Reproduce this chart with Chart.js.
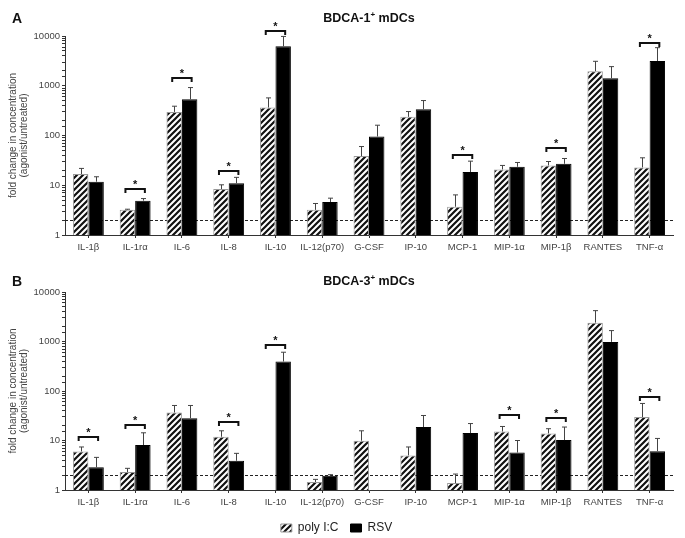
<!DOCTYPE html>
<html>
<head>
<meta charset="utf-8">
<script src="https://cdn.jsdelivr.net/npm/chart.js@4.4.0/dist/chart.umd.min.js"></script>
<style>
  html, body { margin: 0; padding: 0; background: #fff; overflow: hidden; }
  #wrap { position: relative; width: 685px; height: 538px; }
  .panel { position: absolute; left: 0; width: 685px; }
  #panelA { top: 0; height: 258px; }
  #panelB { top: 258px; height: 286px; }
</style>
</head>
<body>
<div id="wrap">
  <div class="panel" id="panelA"><canvas id="chartA"></canvas></div>
  <div class="panel" id="panelB"><canvas id="chartB"></canvas></div>
</div>
<script>
const cytokines = ['IL-1β', 'IL-1rα', 'IL-6', 'IL-8', 'IL-10', 'IL-12(p70)', 'G-CSF', 'IP-10', 'MCP-1', 'MIP-1α', 'MIP-1β', 'RANTES', 'TNF-α']
const yTicks    = [1, 10, 100, 1000, 10000]
const cutoff    = 2

// BDCA-1+ mDCs (panel A): mean and top of error bar
const bdca1PolyIC    = [16.8, 3.2, 298, 8.4, 365, 3.2, 38.5, 237, 3.7, 20.8, 25, 1955, 22.8]
const bdca1PolyICErr = [21.8, 3.3, 388, 10.2, 570, 4.3, 60, 303, 6.4, 25, 30, 3100, 35.6]
const bdca1Rsv       = [11.8, 4.9, 536, 11.0, 6200, 4.6, 95.5, 338, 18.4, 23.5, 27, 1414, 3150]
const bdca1RsvErr    = [14.8, 5.4, 919, 14.4, 9800, 5.5, 161, 504, 30.5, 28.7, 34.5, 2425, 5830]
const bdca1Sig       = [null, 8.4, 1400, 19.5, 12800, null, null, null, 41, null, 56, null, 7400]

// BDCA-3+ mDCs (panel B)
const bdca3PolyIC    = [6.0, 2.3, 36.8, 11.9, null, 1.45, 9.9, 5.0, 1.38, 15.2, 13.9, 2406, 29.7]
const bdca3PolyICErr = [7.4, 2.74, 51, 15.7, null, 1.64, 15.7, 7.4, 2.1, 19.2, 17.3, 4200, 56]
const bdca3Rsv       = [2.87, 8.1, 28.3, 3.9, 394, 1.95, null, 18.7, 14.1, 5.7, 10.2, 982, 6.1]
const bdca3RsvErr    = [4.56, 14.3, 51, 5.5, 607, 2.04, null, 32, 22, 10, 18.7, 1660, 11]
const bdca3Sig       = [11.9, 20.8, null, 23.9, 855, null, null, null, null, 32, 29, null, 76]

const FONT = "'Liberation Sans', Arial, sans-serif"

function makeHatch() {
  const c = document.createElement('canvas')
  c.width = 6; c.height = 6
  const g = c.getContext('2d')
  g.fillStyle = '#fff'; g.fillRect(0, 0, 6, 6)
  g.strokeStyle = '#111'; g.lineWidth = 2.2
  g.beginPath()
  g.moveTo(-1, 7); g.lineTo(7, -1)
  g.moveTo(-1, 1); g.lineTo(1, -1)
  g.moveTo(5, 7); g.lineTo(7, 5)
  g.stroke()
  return g.createPattern(c, 'repeat')
}
const hatch = makeHatch()

// dashed line at the 2-fold cutoff, behind the bars
const cutoffLine = {
  id: 'cutoffLine',
  beforeDatasetsDraw(chart) {
    const { ctx, chartArea, scales } = chart
    const y = Math.round(scales.y.getPixelForValue(cutoff)) + 0.5
    ctx.save()
    ctx.strokeStyle = '#222'; ctx.lineWidth = 1; ctx.setLineDash([3, 2])
    ctx.beginPath(); ctx.moveTo(chartArea.left, y); ctx.lineTo(chartArea.right, y); ctx.stroke()
    ctx.restore()
  }
}

// upward error bars + significance brackets
const annotations = {
  id: 'annotations',
  afterDatasetsDraw(chart, args, opts) {
    const { ctx, scales } = chart
    const y = scales.y
    ctx.save()
    chart.data.datasets.forEach((ds, di) => {
      const meta = chart.getDatasetMeta(di)
      meta.data.forEach((bar, i) => {
        const top = ds.errTop[i]
        if (ds.data[i] == null || top == null) return
        const x = Math.round(bar.x) + 0.5
        const yt = y.getPixelForValue(top)
        ctx.strokeStyle = '#444'; ctx.lineWidth = 1
        ctx.beginPath()
        ctx.moveTo(x, bar.y); ctx.lineTo(x, yt)
        ctx.moveTo(x - 2.5, yt); ctx.lineTo(x + 2.5, yt)
        ctx.stroke()
      })
    })
    const m0 = chart.getDatasetMeta(0), m1 = chart.getDatasetMeta(1)
    opts.sig.forEach((v, i) => {
      if (v == null) return
      const x1 = m0.data[i].x - 2, x2 = m1.data[i].x + 2
      const yy = Math.round(y.getPixelForValue(v))
      ctx.strokeStyle = '#111'; ctx.lineWidth = 2
      ctx.beginPath()
      ctx.moveTo(x1, yy + 4); ctx.lineTo(x1, yy); ctx.lineTo(x2, yy); ctx.lineTo(x2, yy + 4)
      ctx.stroke()
      ctx.fillStyle = '#111'
      ctx.font = 'bold 11px ' + FONT
      ctx.textAlign = 'center'; ctx.textBaseline = 'alphabetic'
      ctx.fillText('*', (x1 + x2) / 2, yy - 1)
    })
    ctx.restore()
  }
}

// panel letter and title with superscript +
const panelTitle = {
  id: 'panelTitle',
  afterDraw(chart, args, opts) {
    const { ctx, chartArea } = chart
    ctx.save()
    ctx.fillStyle = '#111'
    ctx.textBaseline = 'alphabetic'
    ctx.textAlign = 'left'
    ctx.font = 'bold 14px ' + FONT
    ctx.fillText(opts.letter, 12, opts.y + 5)
    const main = 'BDCA-' + opts.num, sup = '+', rest = ' mDCs'
    ctx.font = 'bold 12.5px ' + FONT
    const w1 = ctx.measureText(main).width, w3 = ctx.measureText(rest).width
    ctx.font = 'bold 8px ' + FONT
    const w2 = ctx.measureText(sup).width
    let x = (chartArea.left + chartArea.right) / 2 - (w1 + w2 + w3) / 2
    ctx.font = 'bold 12.5px ' + FONT
    ctx.fillText(main, x, opts.y + 4)
    ctx.font = 'bold 8px ' + FONT
    ctx.fillText(sup, x + w1, opts.y - 1)
    ctx.font = 'bold 12.5px ' + FONT
    ctx.fillText(rest, x + w1 + w2, opts.y + 4)
    ctx.restore()
  }
}

function buildPanel(canvasId, poly, polyErr, rsv, rsvErr, sig, cfg) {
  return new Chart(document.getElementById(canvasId), {
    type: 'bar',
    data: {
      labels: cytokines,
      datasets: [
        { label: 'poly I:C', data: poly, errTop: polyErr, backgroundColor: hatch, borderColor: '#999', borderWidth: 1 },
        { label: 'RSV', data: rsv, errTop: rsvErr, backgroundColor: '#000', borderColor: '#000', borderWidth: 1 },
      ],
    },
    options: {
      responsive: true, maintainAspectRatio: false, animation: false,
      layout: { padding: { left: 0, right: 12, top: cfg.top, bottom: cfg.bottom } },
      datasets: { bar: { categoryPercentage: 0.66, barPercentage: 1.0 } },
      plugins: {
        legend: {
          display: cfg.legend, position: 'bottom',
          labels: { boxWidth: 11, boxHeight: 8, padding: 12, color: '#222', font: { family: FONT, size: 12 } },
        },
        tooltip: { enabled: false },
        annotations: { sig },
        panelTitle: { letter: cfg.letter, num: cfg.num, y: cfg.titleY },
      },
      scales: {
        x: {
          grid: { offset: false, drawOnChartArea: false, drawTicks: true, tickLength: 3, color: '#333' },
          border: { display: true, color: '#333', width: 1 },
          ticks: { color: '#444', padding: 4, autoSkip: false, maxRotation: 0, font: { family: FONT, size: 9.5 } },
          afterFit(scale) { scale.height = cfg.xHeight },
        },
        y: {
          type: 'logarithmic', min: 1, max: 10000,
          grid: { drawOnChartArea: false, drawTicks: true, tickLength: 3, color: '#333' },
          border: { display: true, color: '#333', width: 1 },
          ticks: {
            autoSkip: false, color: '#444', padding: 2, font: { family: FONT, size: 9.5 },
            callback: v => yTicks.includes(v) ? String(v) : '',
          },
          title: {
            display: true, text: ['fold change in concentration', '(agonist/untreated)'],
            color: '#444', font: { family: FONT, size: 10, lineHeight: 1.05 }, padding: { top: 8, bottom: 4 },
          },
          afterFit(scale) { scale.width = 65 },
        },
      },
    },
    plugins: [cutoffLine, annotations, panelTitle],
  })
}

buildPanel('chartA', bdca1PolyIC, bdca1PolyICErr, bdca1Rsv, bdca1RsvErr, bdca1Sig,
  { top: 36, bottom: 0, xHeight: 23, legend: false, letter: 'A', num: '1', titleY: 18 })
buildPanel('chartB', bdca3PolyIC, bdca3PolyICErr, bdca3Rsv, bdca3RsvErr, bdca3Sig,
  { top: 34, bottom: 0, xHeight: 20, legend: true, letter: 'B', num: '3', titleY: 23 })
</script>
</body>
</html>
